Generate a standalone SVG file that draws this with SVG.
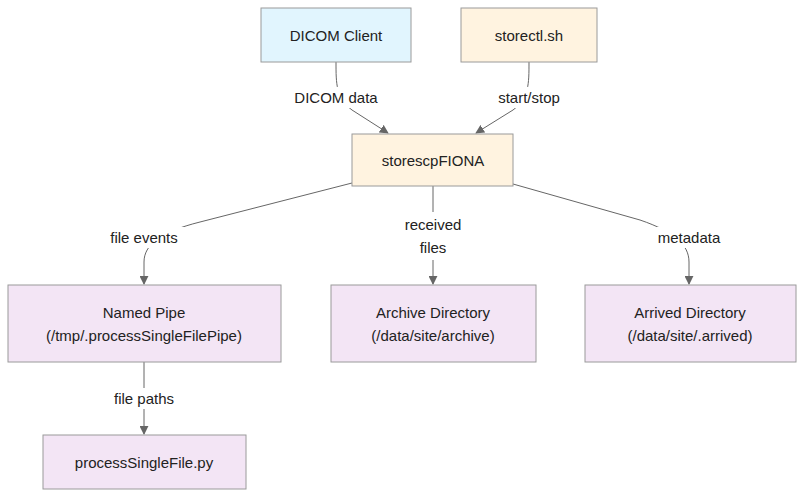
<svg xmlns="http://www.w3.org/2000/svg" width="811" height="502" viewBox="0 0 811 502">
<style>
text{font-family:"Liberation Sans",Arial,sans-serif;font-size:15px;fill:#222;text-anchor:middle;dominant-baseline:central}
.n rect{stroke:#9a9a9a;stroke-width:1}
.blue{fill:#e1f5fe}.orange{fill:#fff3e0}.purple{fill:#f3e5f5}
.e path{fill:none;stroke:#666;stroke-width:1}
.lbl{fill:#fff}
</style>
<defs>
<marker id="arr" viewBox="0 0 10 10" refX="9" refY="5" markerWidth="9" markerHeight="9" markerUnits="userSpaceOnUse" orient="auto">
<path d="M0,0 L10,5 L0,10 z" fill="#666"/>
</marker>
</defs>
<rect width="811" height="502" fill="#fff"/>
<g id="edges" class="e">
<path d="M336,62 C336,84 336,98 352,110 L388,133" marker-end="url(#arr)"/>
<path d="M529,62 C529,84 529,98 513,110 L476,133" marker-end="url(#arr)"/>
<path d="M352,183 L200,222 C160,232 144,245 144,262 L144,284" marker-end="url(#arr)"/>
<path d="M433,186 L433,284" marker-end="url(#arr)"/>
<path d="M513,184 L640,220 C675,232 689,245 689,262 L689,284" marker-end="url(#arr)"/>
<path d="M144,362 L144,434" marker-end="url(#arr)"/>
<rect class="lbl" x="293" y="87" width="88" height="21"/>
<text x="336" y="97">DICOM data</text>
<rect class="lbl" x="491" y="87" width="76" height="21"/>
<text x="529" y="97">start/stop</text>
<rect class="lbl" x="104" y="227" width="82" height="21"/>
<text x="144" y="237">file events</text>
<rect class="lbl" x="401" y="212" width="64" height="48"/>
<text x="433" y="224">received</text>
<text x="433" y="247">files</text>
<rect class="lbl" x="654" y="227" width="72" height="21"/>
<text x="689" y="237">metadata</text>
<rect class="lbl" x="108" y="388" width="74" height="21"/>
<text x="144" y="398">file paths</text>
</g>
<g id="dicomClient" class="n"><rect class="blue" x="261" y="8" width="150" height="54"/><text x="336" y="35">DICOM Client</text></g>
<g id="storectl" class="n"><rect class="orange" x="461" y="8" width="136" height="54"/><text x="529" y="35">storectl.sh</text></g>
<g id="storescp" class="n"><rect class="orange" x="352" y="134" width="161" height="52"/><text x="433" y="160">storescpFIONA</text></g>
<g id="namedPipe" class="n"><rect class="purple" x="8" y="285" width="273" height="77"/><text x="144" y="312">Named Pipe</text><text x="144" y="335">(/tmp/.processSingleFilePipe)</text></g>
<g id="archiveDir" class="n"><rect class="purple" x="331" y="285" width="205" height="77"/><text x="433" y="312">Archive Directory</text><text x="433" y="335">(/data/site/archive)</text></g>
<g id="arrivedDir" class="n"><rect class="purple" x="585" y="285" width="211" height="77"/><text x="690" y="312">Arrived Directory</text><text x="690" y="335">(/data/site/.arrived)</text></g>
<g id="processSingleFile" class="n"><rect class="purple" x="43" y="435" width="203" height="54"/><text x="144" y="462">processSingleFile.py</text></g>
</svg>
